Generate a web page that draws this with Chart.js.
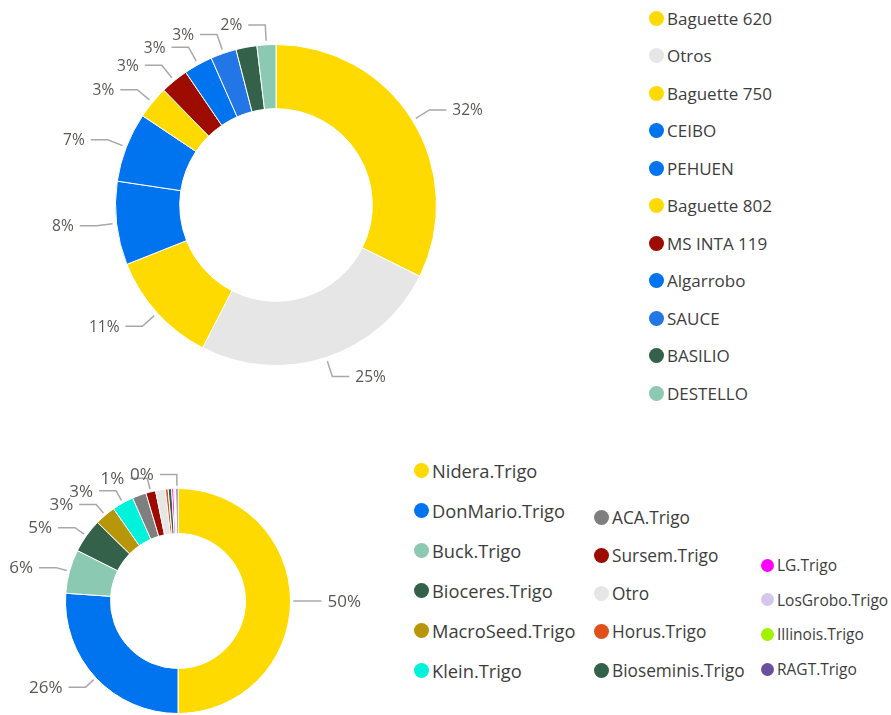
<!DOCTYPE html>
<html>
<head>
<meta charset="utf-8">
<script src="https://cdn.jsdelivr.net/npm/chart.js@4.4.1/dist/chart.umd.min.js"></script>
<style>
  body { margin: 0; background: #fff; width: 891px; height: 715px; overflow: hidden; position: relative; font-family: "Segoe UI", "Open Sans", sans-serif; }
  canvas { position: absolute; }
  .leg { position: absolute; display: flex; align-items: center; height: 24px; color: #3d3d3d; white-space: nowrap; }
  .leg i { display: inline-block; border-radius: 50%; margin-right: 3px; flex: none; }
</style>
</head>
<body>
<canvas id="topChart" width="560" height="410" style="left:0;top:0"></canvas>
<canvas id="bottomChart" width="400" height="275" style="left:0;top:440px"></canvas>
<div id="legends"></div>
<script>
// top doughnut: variety share
const topLabels = ["Baguette 620", "Otros", "Baguette 750", "CEIBO", "PEHUEN", "Baguette 802", "MS INTA 119", "Algarrobo", "SAUCE", "BASILIO", "DESTELLO"];
const topValues = [32.3, 25.2, 11.4, 8.4, 7.0, 3.3, 2.8, 2.9, 2.6, 2.1, 1.9];
const topColors = ["#FFDA00", "#E6E6E6", "#FFDA00", "#0073EE", "#0073EE", "#FFDA00", "#9E0B00", "#0073EE", "#2276E6", "#33614A", "#8BC9B2"];
const topShowPct = [true, true, true, true, true, true, true, true, true, false, true];

// bottom doughnut: company share
const botLabels = ["Nidera.Trigo", "DonMario.Trigo", "Buck.Trigo", "Bioceres.Trigo", "MacroSeed.Trigo", "Klein.Trigo", "ACA.Trigo", "Sursem.Trigo", "Otro", "Horus.Trigo", "Bioseminis.Trigo", "LG.Trigo", "LosGrobo.Trigo", "Illinois.Trigo", "RAGT.Trigo"];
const botValues = [50.0, 26.1, 6.3, 4.9, 3.0, 3.1, 2.0, 1.4, 1.4, 0.4, 0.5, 0.3, 0.2, 0.1, 0.3];
const botColors = ["#FFDA00", "#0073EE", "#8BC9B2", "#33614A", "#B8960A", "#00F2DA", "#7F7F7F", "#9E0B00", "#E6E6E6", "#E0501A", "#33614A", "#FF00FF", "#D5C6EC", "#A2F200", "#6A4F9E"];
const botShowPct = [true, true, true, true, true, true, false, true, false, false, false, false, false, false, true];

const outsideLabels = {
  id: "outsideLabels",
  afterDatasetsDraw(chart, args, opts) {
    const ctx = chart.ctx;
    const data = chart.data.datasets[0].data;
    const total = data.reduce((a, b) => a + b, 0);
    ctx.save();
    ctx.font = opts.font; ctx.textBaseline = "middle";
    chart.getDatasetMeta(0).data.forEach((arc, i) => {
      if (!opts.show[i]) return;
      const p = arc.getProps(["x", "y", "startAngle", "endAngle", "outerRadius"], true);
      const mid = (p.startAngle + p.endAngle) / 2;
      const c = Math.cos(mid), s = Math.sin(mid);
      const r0 = p.outerRadius * 1.025, r1 = p.outerRadius * 1.124;
      const x1 = p.x + c * r1, y1 = p.y + s * r1;
      const dir = c >= 0 ? 1 : -1;
      const x2 = x1 + dir * 17;
      ctx.strokeStyle = "#a8a8a8"; ctx.lineWidth = 1.5;
      ctx.beginPath(); ctx.moveTo(p.x + c * r0, p.y + s * r0); ctx.lineTo(x1, y1); ctx.lineTo(x2, y1); ctx.stroke();
      ctx.fillStyle = "#5a5856"; ctx.textAlign = dir > 0 ? "left" : "right";
      ctx.fillText(Math.round(data[i] / total * 100) + "%", x2 + dir * 6, y1 + 1);
    });
    ctx.restore();
  }
};

function makeDonut(id, labels, values, colors, show, pad, font) {
  return new Chart(document.getElementById(id), {
    type: "doughnut",
    data: { labels: labels, datasets: [{ data: values, backgroundColor: colors, borderColor: "#fff", borderWidth: 1 }] },
    options: {
      responsive: false, animation: false, cutout: "60%",
      layout: { padding: pad },
      plugins: { legend: { display: false }, tooltip: { enabled: false }, outsideLabels: { show: show, font: font } }
    },
    plugins: [outsideLabels]
  });
}

makeDonut("topChart", topLabels, topValues, topColors, topShowPct, { left: 115, right: 123, top: 44, bottom: 44 }, "15.5px 'Segoe UI', 'Open Sans', sans-serif");
makeDonut("bottomChart", botLabels, botValues, botColors, botShowPct, { left: 65, right: 109, top: 48, bottom: 1 }, "17px 'Segoe UI', 'Open Sans', sans-serif");

// legends (html, built from the arrays)
const legends = document.getElementById("legends");
function addLegend(label, color, x, cy, size, dot) {
  const d = document.createElement("div");
  d.className = "leg"; d.style.left = x + "px"; d.style.top = (cy - 12) + "px"; d.style.fontSize = size + "px";
  d.innerHTML = '<i style="width:' + dot + 'px;height:' + dot + 'px;background:' + color + '"></i>';
  d.appendChild(document.createTextNode(label));
  legends.appendChild(d);
}
topLabels.forEach((l, i) => addLegend(l, topColors[i], 649, 18 + i * 37.5, 17, 15));
botLabels.forEach((l, i) => {
  if (i < 6) addLegend(l, botColors[i], 414, 470 + i * 40, 18.3, 15);
  else if (i < 11) addLegend(l, botColors[i], 594, 517 + (i - 6) * 38.3, 17.3, 15);
  else addLegend(l, botColors[i], 761, 565 + (i - 11) * 34.7, 15.5, 13);
});
</script>
</body>
</html>
